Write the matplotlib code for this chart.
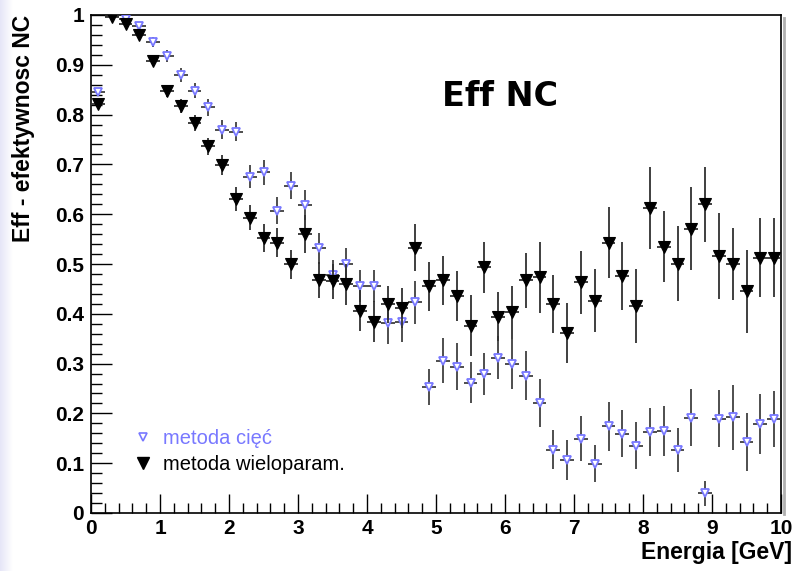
import matplotlib.pyplot as plt
import numpy as np
from matplotlib.lines import Line2D
from matplotlib.ticker import MultipleLocator

# srodki binow energii (co 0.2 GeV)
energia = np.arange(0.1, 10.0, 0.2)

# metoda wieloparametryczna
eff_wielo = [0.822, 0.996, 0.982, 0.959, 0.908, 0.848, 0.818, 0.784, 0.736, 0.699,
             0.631, 0.593, 0.553, 0.543, 0.499, 0.560, 0.468, 0.465, 0.459, 0.406,
             0.384, 0.419, 0.411, 0.533, 0.455, 0.467, 0.436, 0.376, 0.493, 0.394,
             0.403, 0.467, 0.473, 0.419, 0.362, 0.463, 0.426, 0.543, 0.476, 0.416,
             0.612, 0.535, 0.501, 0.571, 0.620, 0.516, 0.500, 0.445, 0.513, 0.513]
err_wielo = [0.010, 0.003, 0.005, 0.008, 0.010, 0.012, 0.014, 0.016, 0.018, 0.020,
             0.024, 0.025, 0.028, 0.029, 0.030, 0.038, 0.037, 0.035, 0.042, 0.041,
             0.041, 0.037, 0.040, 0.047, 0.049, 0.049, 0.050, 0.061, 0.052, 0.049,
             0.053, 0.056, 0.071, 0.058, 0.060, 0.063, 0.063, 0.071, 0.068, 0.074,
             0.082, 0.072, 0.076, 0.083, 0.075, 0.086, 0.072, 0.084, 0.079, 0.079]

# metoda ciec
eff_ciec = [0.845, 0.997, 0.992, 0.977, 0.945, 0.918, 0.880, 0.848, 0.815, 0.770,
            0.766, 0.675, 0.684, 0.607, 0.657, 0.618, 0.532, 0.478, 0.501, 0.455,
            0.455, 0.382, 0.384, 0.423, 0.253, 0.306, 0.294, 0.262, 0.279, 0.312,
            0.299, 0.276, 0.221, 0.127, 0.106, 0.149, 0.099, 0.174, 0.159, 0.135,
            0.162, 0.164, 0.127, 0.191, 0.040, 0.189, 0.192, 0.142, 0.179, 0.189]
err_ciec = [0.008, 0.003, 0.005, 0.008, 0.010, 0.012, 0.014, 0.015, 0.017, 0.019,
            0.020, 0.023, 0.025, 0.027, 0.027, 0.030, 0.031, 0.031, 0.031, 0.032,
            0.032, 0.043, 0.040, 0.043, 0.036, 0.045, 0.047, 0.042, 0.043, 0.043,
            0.051, 0.050, 0.048, 0.039, 0.040, 0.045, 0.037, 0.049, 0.047, 0.047,
            0.048, 0.050, 0.044, 0.057, 0.025, 0.057, 0.065, 0.058, 0.060, 0.056]

niebieski = '#7878ff'

plt.rcParams['font.family'] = ['Liberation Sans', 'DejaVu Sans']

fig = plt.figure(figsize=(7.97, 5.71), dpi=100)

# jasny pasek tla po lewej stronie okna
tlo = fig.add_axes([0, 0, 0.016, 1])
grad = np.linspace(0, 1, 64)[None, :, None]
kolor = np.array([0.90, 0.90, 0.97])[None, None, :] * (1 - grad) + grad
tlo.imshow(kolor, aspect='auto', extent=[0, 1, 0, 1])
tlo.axis('off')

ax = fig.add_axes([91/797, 1 - 513/571, 690/797, 498/571])

ax.errorbar(energia, eff_ciec, yerr=err_ciec, xerr=0.1, fmt='v', ms=6,
            mfc='white', mec=niebieski, mew=1.3, ecolor='#303030', elinewidth=1.2,
            capsize=0, zorder=3)
ax.errorbar(energia, eff_wielo, yerr=err_wielo, xerr=0.1, fmt='v', ms=9,
            mfc='black', mec='black', mew=0.8, ecolor='#303030', elinewidth=1.3,
            capsize=0, zorder=4)

ax.set_xlim(0, 10)
ax.set_ylim(0, 1)
ax.xaxis.set_major_locator(MultipleLocator(1))
ax.xaxis.set_minor_locator(MultipleLocator(0.2))
ax.yaxis.set_major_locator(MultipleLocator(0.1))
ax.yaxis.set_minor_locator(MultipleLocator(0.02))
ax.set_yticks(np.arange(0, 1.01, 0.1))
ax.set_yticklabels(['0', '0.1', '0.2', '0.3', '0.4', '0.5', '0.6', '0.7', '0.8', '0.9', '1'])

ax.tick_params(axis='both', which='both', direction='in', top=False, right=False,
               width=1, color='black')
ax.tick_params(axis='y', which='major', length=15, pad=5)
ax.tick_params(axis='y', which='minor', length=8)
ax.tick_params(axis='x', which='major', length=14, pad=4)
ax.tick_params(axis='x', which='minor', length=7)
for lab in ax.get_xticklabels() + ax.get_yticklabels():
    lab.set_fontsize(15)
    lab.set_fontweight('bold')

for s in ax.spines.values():
    s.set_linewidth(1.2)

# cien ramki
fig.add_artist(Line2D([784/797, 784/797], [1 - 18/571, 1 - 514/571],
                      transform=fig.transFigure, color='#b0b0b0', lw=2))

fig.text(24/797, 1 - 15/571, 'Eff - efektywnosc NC', rotation=90, ha='center',
         va='top', fontsize=16.5, fontweight='bold')
fig.text(792/797, 1 - 552/571, 'Energia [GeV]', ha='right', va='center',
         fontsize=16.5, fontweight='bold')

ax.text(500/797, 1 - 97/571, 'Eff NC', transform=fig.transFigure, ha='center',
        va='center', fontsize=24, fontweight='bold', family='DejaVu Sans')

uchwyty = [Line2D([], [], ls='none', marker='v', ms=5.5, mfc='white', mec=niebieski, mew=1.2),
           Line2D([], [], ls='none', marker='v', ms=9, mfc='black', mec='black')]
leg = ax.legend(uchwyty, ['metoda cięć', 'metoda wieloparam.'], loc='upper left',
                bbox_to_anchor=(125/797, 1 - 419/571), bbox_transform=fig.transFigure,
                frameon=False, fontsize=14.5, handlelength=0.8, handletextpad=0.6,
                labelspacing=0.35, borderpad=0)
leg.get_texts()[0].set_color(niebieski)

fig.savefig('out.png', dpi=100)
